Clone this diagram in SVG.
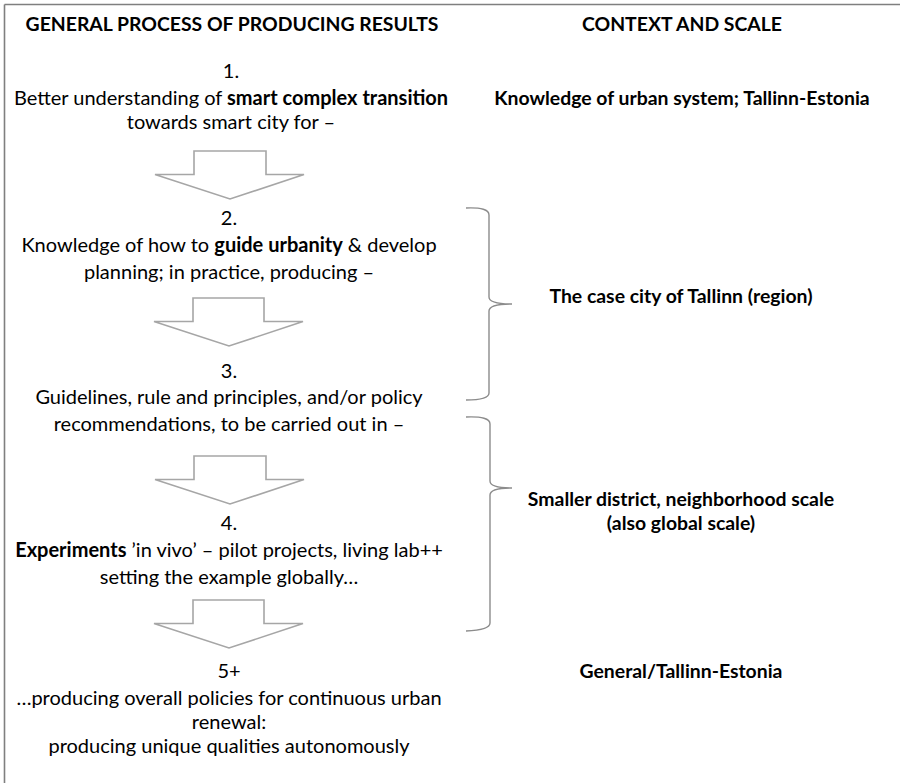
<svg xmlns="http://www.w3.org/2000/svg" width="900" height="783" viewBox="0 0 900 783">
<style>
text{font-family:Lato,"Liberation Sans",sans-serif;font-size:20px;fill:#000;text-anchor:middle}
.b{font-weight:bold}
.h{font-size:19.4px}
.arrow{fill:#fff;stroke:#a6a6a6;stroke-width:1.6;stroke-linejoin:miter}
.brace{fill:none;stroke:#8c8c8c;stroke-width:1.4}
.frame{stroke:#7f7f7f;stroke-width:1.6;fill:none}
</style>
<rect width="900" height="783" fill="#fff"/>
<g id="frame">
<line class="frame" x1="4.5" y1="4.5" x2="900" y2="4.5"/>
<line class="frame" x1="4.5" y1="4.5" x2="4.5" y2="783"/>
</g>
<g id="header-left"><text class="b h" x="232" y="31">GENERAL PROCESS OF PRODUCING RESULTS</text></g>
<g id="header-right"><text class="b h" x="682" y="31">CONTEXT AND SCALE</text></g>
<g id="step1">
<text x="231" y="78">1.</text>
<text x="231" y="105">Better understanding of <tspan class="b">smart complex transition</tspan></text>
<text x="231" y="129">towards smart city for –</text>
</g>
<g id="step2">
<text x="229" y="225">2.</text>
<text x="229" y="252">Knowledge of how to <tspan class="b">guide urbanity</tspan> &amp; develop</text>
<text x="229" y="279">planning; in practice, producing –</text>
</g>
<g id="step3">
<text x="229" y="378">3.</text>
<text x="229" y="404">Guidelines, rule and principles, and/or policy</text>
<text x="229" y="431">recommendations, to be carried out in –</text>
</g>
<g id="step4">
<text x="229" y="530">4.</text>
<text x="229" y="557"><tspan class="b">Experiments</tspan> ’in vivo’ – pilot projects, living lab++</text>
<text x="229" y="584">setting the example globally…</text>
</g>
<g id="step5">
<text x="229" y="678">5+</text>
<text x="229" y="705">…producing overall policies for continuous urban</text>
<text x="229" y="729">renewal:</text>
<text x="229" y="753">producing unique qualities autonomously</text>
</g>
<g id="ctx1"><text class="b h" x="682" y="105">Knowledge of urban system; Tallinn-Estonia</text></g>
<g id="ctx2"><text class="b h" x="681" y="303">The case city of Tallinn (region)</text></g>
<g id="ctx3">
<text class="b h" x="681" y="506">Smaller district, neighborhood scale</text>
<text class="b h" x="681" y="530">(also global scale)</text>
</g>
<g id="ctx4"><text class="b h" x="681" y="678">General/Tallinn-Estonia</text></g>
<g id="connectors">
<path class="arrow" d="M194,151 H266 V174.5 H304 L230,199 L155,174.5 H194 Z"/>
<path class="arrow" d="M193,298 H264 V321.5 H303 L229,346 L154,321.5 H193 Z"/>
<path class="arrow" d="M194,456 H266 V479.5 H304 L230,504 L155,479.5 H194 Z"/>
<path class="arrow" d="M193,600 H264 V623.5 H303 L229,648 L154,623.5 H193 Z"/>
<path class="brace" d="M466,208 Q489,207 489,215 L489,297 Q489,304 512,304 Q489,304 489,311 L489,393 Q489,400 466,400"/>
<path class="brace" d="M466,417 Q490,416 490,424 L490,481 Q490,488 512,488 Q490,488 490,495 L490,623 Q490,630 466,631"/>
</g>
</svg>
